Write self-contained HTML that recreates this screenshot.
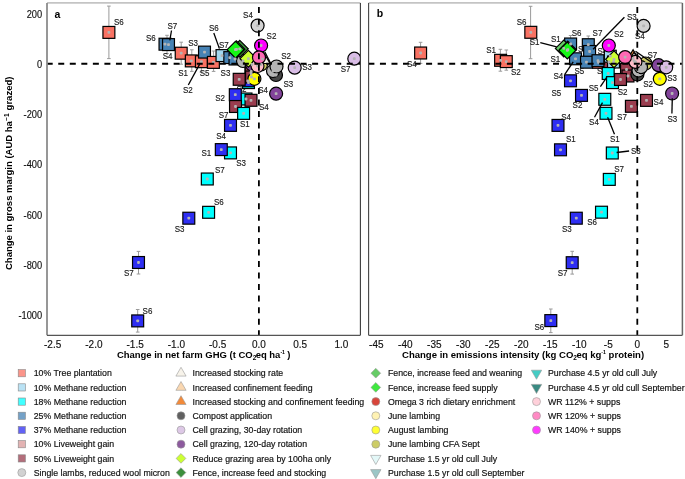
<!DOCTYPE html><html><head><meta charset="utf-8"><style>html,body{margin:0;padding:0;background:#fff;overflow:hidden}svg{display:block}#w{will-change:transform}</style></head><body><div id="w"><svg width="685" height="479" viewBox="0 0 685 479" font-family='"Liberation Sans", sans-serif'>
<rect width="685" height="479" fill="#fff"/>
<clipPath id="clipa"><rect x="47.0" y="2.9" width="313.4" height="332.4"/></clipPath>
<g clip-path="url(#clipa)">
<path d="M108.9,6.1V58.6M107.1,6.1h3.6M107.1,58.6h3.6" stroke="#9a9a9a" stroke-width="1" fill="none"/>
<path d="M167.0,35.3V53.5M165.2,35.3h3.6M165.2,53.5h3.6" stroke="#9a9a9a" stroke-width="1" fill="none"/>
<path d="M181.2,42.2V64.2M179.4,42.2h3.6M179.4,64.2h3.6" stroke="#9a9a9a" stroke-width="1" fill="none"/>
<path d="M191.8,49.8V71.4M190.0,49.8h3.6M190.0,71.4h3.6" stroke="#9a9a9a" stroke-width="1" fill="none"/>
<path d="M201.4,50.5V72.0M199.6,50.5h3.6M199.6,72.0h3.6" stroke="#9a9a9a" stroke-width="1" fill="none"/>
<path d="M213.6,51.0V71.4M211.8,51.0h3.6M211.8,71.4h3.6" stroke="#9a9a9a" stroke-width="1" fill="none"/>
<path d="M138.5,251.4V274.0M136.7,251.4h3.6M136.7,274.0h3.6" stroke="#9a9a9a" stroke-width="1" fill="none"/>
<path d="M137.7,309.5V332.1M135.9,309.5h3.6M135.9,332.1h3.6" stroke="#9a9a9a" stroke-width="1" fill="none"/>
<text transform="translate(236.6,92.4) scale(0.94,1)" font-size="8.5" fill="#1a1a1a" stroke="#1a1a1a" stroke-width="0.15">S2</text>
<rect x="102.95" y="26.45" width="11.9" height="11.9" fill="#f97263" stroke="#000" stroke-width="1.2"/>
<rect x="159.05" y="38.25" width="11.9" height="11.9" fill="#4682b4" stroke="#000" stroke-width="1.2"/>
<rect x="162.55" y="38.65" width="11.9" height="11.9" fill="#4682b4" stroke="#000" stroke-width="1.2"/>
<rect x="175.25" y="47.25" width="11.9" height="11.9" fill="#f97263" stroke="#000" stroke-width="1.2"/>
<rect x="185.35" y="54.95" width="11.9" height="11.9" fill="#f97263" stroke="#000" stroke-width="1.2"/>
<rect x="195.45" y="55.75" width="11.9" height="11.9" fill="#f97263" stroke="#000" stroke-width="1.2"/>
<rect x="198.55" y="46.15" width="11.9" height="11.9" fill="#4682b4" stroke="#000" stroke-width="1.2"/>
<rect x="207.45" y="56.45" width="11.9" height="11.9" fill="#f97263" stroke="#000" stroke-width="1.2"/>
<rect x="216.05" y="49.65" width="11.9" height="11.9" fill="#a3d8f0" stroke="#000" stroke-width="1.2"/>
<rect x="223.85" y="51.65" width="11.9" height="11.9" fill="#4682b4" stroke="#000" stroke-width="1.2"/>
<rect x="229.05" y="53.05" width="11.9" height="11.9" fill="#4682b4" stroke="#000" stroke-width="1.2"/>
<circle cx="243.0" cy="61.0" r="6.5" fill="#b5b5b5" stroke="#000" stroke-width="1.2"/>
<polygon points="239.8,40.4 248.20000000000002,48.8 239.8,57.199999999999996 231.4,48.8" fill="#3d8f3d" stroke="#000" stroke-width="1.2"/>
<polygon points="236.5,40.9 244.9,49.3 236.5,57.699999999999996 228.1,49.3" fill="#66cc66" stroke="#000" stroke-width="1.2"/>
<polygon points="235.5,41.300000000000004 243.9,49.7 235.5,58.1 227.1,49.7" fill="#16f516" stroke="#000" stroke-width="1.2"/>
<rect x="245.05" y="67.55" width="11.9" height="11.9" fill="#00ffff" stroke="#000" stroke-width="1.2"/>
<rect x="242.55" y="76.65" width="11.9" height="11.9" fill="#00ffff" stroke="#000" stroke-width="1.2"/>
<rect x="242.05" y="74.85" width="11.9" height="11.9" fill="#2e2ef2" stroke="#000" stroke-width="1.2"/>
<rect x="245.25" y="65.55" width="11.9" height="11.9" fill="#9a3d4f" stroke="#000" stroke-width="1.2"/>
<rect x="245.55" y="71.05" width="11.9" height="11.9" fill="#9a3d4f" stroke="#000" stroke-width="1.2"/>
<circle cx="252.0" cy="64.5" r="6.5" fill="#82449a" stroke="#000" stroke-width="1.2"/>
<polygon points="248.4,50.300000000000004 256.8,58.7 248.4,67.10000000000001 240.0,58.7" fill="#ccff33" stroke="#000" stroke-width="1.2"/>
<circle cx="257.6" cy="25.6" r="6.5" fill="#d2d2d2" stroke="#000" stroke-width="1.2"/>
<circle cx="261.0" cy="64.5" r="6.5" fill="#cccc66" stroke="#000" stroke-width="1.2"/>
<polygon points="262.5,50.45 270.069,63.5 254.931,63.5" fill="#f7f3ea" stroke="#000" stroke-width="1.2"/>
<circle cx="257.5" cy="66.0" r="6.5" fill="#ffbcc8" stroke="#000" stroke-width="1.2"/>
<circle cx="261.1" cy="45.5" r="6.5" fill="#ff00ff" stroke="#000" stroke-width="1.2"/>
<circle cx="259.0" cy="57.4" r="6.5" fill="#ff69b4" stroke="#000" stroke-width="1.2"/>
<circle cx="276.0" cy="75.0" r="6.5" fill="#454545" stroke="#000" stroke-width="1.2"/>
<circle cx="273.0" cy="71.0" r="6.5" fill="#b5b5b5" stroke="#000" stroke-width="1.2"/>
<circle cx="276.5" cy="66.5" r="6.5" fill="#b5b5b5" stroke="#000" stroke-width="1.2"/>
<circle cx="294.7" cy="67.7" r="6.5" fill="#d9bde6" stroke="#000" stroke-width="1.2"/>
<circle cx="354.3" cy="58.7" r="6.5" fill="#d9bde6" stroke="#000" stroke-width="1.2"/>
<rect x="233.25" y="73.35" width="11.9" height="11.9" fill="#9a3d4f" stroke="#000" stroke-width="1.2"/>
<circle cx="254.4" cy="78.8" r="6.5" fill="#ffff00" stroke="#000" stroke-width="1.2"/>
<circle cx="276.1" cy="93.7" r="6.5" fill="#82449a" stroke="#000" stroke-width="1.2"/>
<rect x="240.05" y="93.05" width="11.9" height="11.9" fill="#00ffff" stroke="#000" stroke-width="1.2"/>
<rect x="229.35" y="88.75" width="11.9" height="11.9" fill="#2e2ef2" stroke="#000" stroke-width="1.2"/>
<rect x="245.05" y="94.35" width="11.9" height="11.9" fill="#9a3d4f" stroke="#000" stroke-width="1.2"/>
<rect x="229.55" y="100.55" width="11.9" height="11.9" fill="#9a3d4f" stroke="#000" stroke-width="1.2"/>
<rect x="237.65" y="107.45" width="11.9" height="11.9" fill="#00ffff" stroke="#000" stroke-width="1.2"/>
<rect x="224.55" y="119.45" width="11.9" height="11.9" fill="#2e2ef2" stroke="#000" stroke-width="1.2"/>
<rect x="224.55" y="146.95" width="11.9" height="11.9" fill="#00ffff" stroke="#000" stroke-width="1.2"/>
<rect x="215.35" y="143.65" width="11.9" height="11.9" fill="#2e2ef2" stroke="#000" stroke-width="1.2"/>
<rect x="201.35" y="173.05" width="11.9" height="11.9" fill="#00ffff" stroke="#000" stroke-width="1.2"/>
<rect x="202.65" y="206.35" width="11.9" height="11.9" fill="#00ffff" stroke="#000" stroke-width="1.2"/>
<rect x="182.85" y="212.25" width="11.9" height="11.9" fill="#2e2ef2" stroke="#000" stroke-width="1.2"/>
<rect x="132.55" y="256.55" width="11.9" height="11.9" fill="#2e2ef2" stroke="#000" stroke-width="1.2"/>
<rect x="131.75" y="314.95" width="11.9" height="11.9" fill="#2e2ef2" stroke="#000" stroke-width="1.2"/>
<rect x="107.50" y="31.00" width="2.8" height="2.8" rx="0.8" fill="#b4b4b4"/>
<rect x="163.60" y="42.80" width="2.8" height="2.8" rx="0.8" fill="#b4b4b4"/>
<rect x="167.10" y="43.20" width="2.8" height="2.8" rx="0.8" fill="#b4b4b4"/>
<rect x="179.80" y="51.80" width="2.8" height="2.8" rx="0.8" fill="#b4b4b4"/>
<rect x="189.90" y="59.50" width="2.8" height="2.8" rx="0.8" fill="#b4b4b4"/>
<rect x="200.00" y="60.30" width="2.8" height="2.8" rx="0.8" fill="#b4b4b4"/>
<rect x="203.10" y="50.70" width="2.8" height="2.8" rx="0.8" fill="#b4b4b4"/>
<rect x="212.00" y="61.00" width="2.8" height="2.8" rx="0.8" fill="#b4b4b4"/>
<rect x="220.60" y="54.20" width="2.8" height="2.8" rx="0.8" fill="#b4b4b4"/>
<rect x="228.40" y="56.20" width="2.8" height="2.8" rx="0.8" fill="#b4b4b4"/>
<rect x="233.60" y="57.60" width="2.8" height="2.8" rx="0.8" fill="#b4b4b4"/>
<rect x="241.60" y="59.60" width="2.8" height="2.8" rx="0.8" fill="#b4b4b4"/>
<rect x="238.40" y="47.40" width="2.8" height="2.8" rx="0.8" fill="#b4b4b4"/>
<rect x="235.10" y="47.90" width="2.8" height="2.8" rx="0.8" fill="#b4b4b4"/>
<rect x="234.10" y="48.30" width="2.8" height="2.8" rx="0.8" fill="#b4b4b4"/>
<rect x="249.60" y="72.10" width="2.8" height="2.8" rx="0.8" fill="#b4b4b4"/>
<rect x="247.10" y="81.20" width="2.8" height="2.8" rx="0.8" fill="#b4b4b4"/>
<rect x="246.60" y="79.40" width="2.8" height="2.8" rx="0.8" fill="#b4b4b4"/>
<rect x="249.80" y="70.10" width="2.8" height="2.8" rx="0.8" fill="#b4b4b4"/>
<rect x="250.10" y="75.60" width="2.8" height="2.8" rx="0.8" fill="#b4b4b4"/>
<rect x="250.60" y="63.10" width="2.8" height="2.8" rx="0.8" fill="#b4b4b4"/>
<rect x="247.00" y="57.30" width="2.8" height="2.8" rx="0.8" fill="#b4b4b4"/>
<rect x="256.20" y="24.20" width="2.8" height="2.8" rx="0.8" fill="#b4b4b4"/>
<rect x="259.60" y="63.10" width="2.8" height="2.8" rx="0.8" fill="#b4b4b4"/>
<rect x="261.10" y="57.75" width="2.8" height="2.8" rx="0.8" fill="#b4b4b4"/>
<rect x="256.10" y="64.60" width="2.8" height="2.8" rx="0.8" fill="#b4b4b4"/>
<rect x="259.70" y="44.10" width="2.8" height="2.8" rx="0.8" fill="#b4b4b4"/>
<rect x="257.60" y="56.00" width="2.8" height="2.8" rx="0.8" fill="#b4b4b4"/>
<rect x="274.60" y="73.60" width="2.8" height="2.8" rx="0.8" fill="#b4b4b4"/>
<rect x="271.60" y="69.60" width="2.8" height="2.8" rx="0.8" fill="#b4b4b4"/>
<rect x="275.10" y="65.10" width="2.8" height="2.8" rx="0.8" fill="#b4b4b4"/>
<rect x="293.30" y="66.30" width="2.8" height="2.8" rx="0.8" fill="#b4b4b4"/>
<rect x="352.90" y="57.30" width="2.8" height="2.8" rx="0.8" fill="#b4b4b4"/>
<rect x="237.80" y="77.90" width="2.8" height="2.8" rx="0.8" fill="#b4b4b4"/>
<rect x="253.00" y="77.40" width="2.8" height="2.8" rx="0.8" fill="#b4b4b4"/>
<rect x="274.70" y="92.30" width="2.8" height="2.8" rx="0.8" fill="#b4b4b4"/>
<rect x="244.60" y="97.60" width="2.8" height="2.8" rx="0.8" fill="#b4b4b4"/>
<rect x="233.90" y="93.30" width="2.8" height="2.8" rx="0.8" fill="#b4b4b4"/>
<rect x="249.60" y="98.90" width="2.8" height="2.8" rx="0.8" fill="#b4b4b4"/>
<rect x="234.10" y="105.10" width="2.8" height="2.8" rx="0.8" fill="#b4b4b4"/>
<rect x="242.20" y="112.00" width="2.8" height="2.8" rx="0.8" fill="#b4b4b4"/>
<rect x="229.10" y="124.00" width="2.8" height="2.8" rx="0.8" fill="#b4b4b4"/>
<rect x="229.10" y="151.50" width="2.8" height="2.8" rx="0.8" fill="#b4b4b4"/>
<rect x="219.90" y="148.20" width="2.8" height="2.8" rx="0.8" fill="#b4b4b4"/>
<rect x="205.90" y="177.60" width="2.8" height="2.8" rx="0.8" fill="#b4b4b4"/>
<rect x="207.20" y="210.90" width="2.8" height="2.8" rx="0.8" fill="#b4b4b4"/>
<rect x="187.40" y="216.80" width="2.8" height="2.8" rx="0.8" fill="#b4b4b4"/>
<rect x="137.10" y="261.10" width="2.8" height="2.8" rx="0.8" fill="#b4b4b4"/>
<rect x="136.30" y="319.50" width="2.8" height="2.8" rx="0.8" fill="#b4b4b4"/>
<line x1="46.7" y1="63.75" x2="372.4" y2="63.75" stroke="#000" stroke-width="1.8" stroke-dasharray="6,5.54"/>
<line x1="258.9" y1="-4.44" x2="258.9" y2="347.3" stroke="#000" stroke-width="1.8" stroke-dasharray="6,5.54"/>
<line x1="171.5" y1="30.5" x2="169.8" y2="40.4" stroke="#000" stroke-width="1.3"/>
<line x1="213.8" y1="33" x2="219.4" y2="48.6" stroke="#000" stroke-width="1.3"/>
<line x1="188.3" y1="85" x2="199.7" y2="64.1" stroke="#000" stroke-width="1.3"/>
<line x1="264.8" y1="51.8" x2="270.6" y2="63.2" stroke="#000" stroke-width="1.3"/>
</g>
<text transform="translate(114,24.8) scale(0.94,1)" font-size="8.5" fill="#1a1a1a" stroke="#1a1a1a" stroke-width="0.15">S6</text>
<text transform="translate(146,41) scale(0.94,1)" font-size="8.5" fill="#1a1a1a" stroke="#1a1a1a" stroke-width="0.15">S6</text>
<text transform="translate(167.4,28.8) scale(0.94,1)" font-size="8.5" fill="#1a1a1a" stroke="#1a1a1a" stroke-width="0.15">S7</text>
<text transform="translate(162.8,58.5) scale(0.94,1)" font-size="8.5" fill="#1a1a1a" stroke="#1a1a1a" stroke-width="0.15">S4</text>
<text transform="translate(188.2,45.7) scale(0.94,1)" font-size="8.5" fill="#1a1a1a" stroke="#1a1a1a" stroke-width="0.15">S3</text>
<text transform="translate(178.3,75.6) scale(0.94,1)" font-size="8.5" fill="#1a1a1a" stroke="#1a1a1a" stroke-width="0.15">S1</text>
<text transform="translate(199.7,75.6) scale(0.94,1)" font-size="8.5" fill="#1a1a1a" stroke="#1a1a1a" stroke-width="0.15">S5</text>
<text transform="translate(220.6,75.6) scale(0.94,1)" font-size="8.5" fill="#1a1a1a" stroke="#1a1a1a" stroke-width="0.15">S3</text>
<text transform="translate(183,92.8) scale(0.94,1)" font-size="8.5" fill="#1a1a1a" stroke="#1a1a1a" stroke-width="0.15">S2</text>
<text transform="translate(209,31) scale(0.94,1)" font-size="8.5" fill="#1a1a1a" stroke="#1a1a1a" stroke-width="0.15">S6</text>
<text transform="translate(219,48) scale(0.94,1)" font-size="8.5" fill="#1a1a1a" stroke="#1a1a1a" stroke-width="0.15">S7</text>
<text transform="translate(243.1,17.8) scale(0.94,1)" font-size="8.5" fill="#1a1a1a" stroke="#1a1a1a" stroke-width="0.15">S4</text>
<text transform="translate(266.6,38.6) scale(0.94,1)" font-size="8.5" fill="#1a1a1a" stroke="#1a1a1a" stroke-width="0.15">S2</text>
<text transform="translate(281.3,58.9) scale(0.94,1)" font-size="8.5" fill="#1a1a1a" stroke="#1a1a1a" stroke-width="0.15">S2</text>
<text transform="translate(302.2,69.8) scale(0.94,1)" font-size="8.5" fill="#1a1a1a" stroke="#1a1a1a" stroke-width="0.15">S3</text>
<text transform="translate(340.8,71.6) scale(0.94,1)" font-size="8.5" fill="#1a1a1a" stroke="#1a1a1a" stroke-width="0.15">S7</text>
<text transform="translate(283.4,86.5) scale(0.94,1)" font-size="8.5" fill="#1a1a1a" stroke="#1a1a1a" stroke-width="0.15">S3</text>
<text transform="translate(258.2,93) scale(0.94,1)" font-size="8.5" fill="#1a1a1a" stroke="#1a1a1a" stroke-width="0.15">S4</text>
<text transform="translate(258.9,109.6) scale(0.94,1)" font-size="8.5" fill="#1a1a1a" stroke="#1a1a1a" stroke-width="0.15">S4</text>
<text transform="translate(215.3,100.6) scale(0.94,1)" font-size="8.5" fill="#1a1a1a" stroke="#1a1a1a" stroke-width="0.15">S2</text>
<text transform="translate(218.7,117.7) scale(0.94,1)" font-size="8.5" fill="#1a1a1a" stroke="#1a1a1a" stroke-width="0.15">S7</text>
<text transform="translate(239.9,126.9) scale(0.94,1)" font-size="8.5" fill="#1a1a1a" stroke="#1a1a1a" stroke-width="0.15">S1</text>
<text transform="translate(216.3,138.6) scale(0.94,1)" font-size="8.5" fill="#1a1a1a" stroke="#1a1a1a" stroke-width="0.15">S4</text>
<text transform="translate(201.4,155.5) scale(0.94,1)" font-size="8.5" fill="#1a1a1a" stroke="#1a1a1a" stroke-width="0.15">S1</text>
<text transform="translate(236.3,166) scale(0.94,1)" font-size="8.5" fill="#1a1a1a" stroke="#1a1a1a" stroke-width="0.15">S3</text>
<text transform="translate(214.9,172.6) scale(0.94,1)" font-size="8.5" fill="#1a1a1a" stroke="#1a1a1a" stroke-width="0.15">S7</text>
<text transform="translate(214,205) scale(0.94,1)" font-size="8.5" fill="#1a1a1a" stroke="#1a1a1a" stroke-width="0.15">S6</text>
<text transform="translate(174.8,231.6) scale(0.94,1)" font-size="8.5" fill="#1a1a1a" stroke="#1a1a1a" stroke-width="0.15">S3</text>
<text transform="translate(124,276.3) scale(0.94,1)" font-size="8.5" fill="#1a1a1a" stroke="#1a1a1a" stroke-width="0.15">S7</text>
<text transform="translate(142.6,313.6) scale(0.94,1)" font-size="8.5" fill="#1a1a1a" stroke="#1a1a1a" stroke-width="0.15">S6</text>
<clipPath id="clipb"><rect x="368.6" y="2.9" width="313.8" height="332.4"/></clipPath>
<g clip-path="url(#clipb)">
<path d="M420.6,42.3V63.4M418.8,42.3h3.6M418.8,63.4h3.6" stroke="#9a9a9a" stroke-width="1" fill="none"/>
<path d="M530.6,6.3V58.7M528.8,6.3h3.6M528.8,58.7h3.6" stroke="#9a9a9a" stroke-width="1" fill="none"/>
<path d="M500.4,49.3V71.2M498.6,49.3h3.6M498.6,71.2h3.6" stroke="#9a9a9a" stroke-width="1" fill="none"/>
<path d="M506.3,50.0V70.2M504.5,50.0h3.6M504.5,70.2h3.6" stroke="#9a9a9a" stroke-width="1" fill="none"/>
<path d="M572.2,251.3V274.1M570.4,251.3h3.6M570.4,274.1h3.6" stroke="#9a9a9a" stroke-width="1" fill="none"/>
<path d="M550.8,309.0V332.6M549.0,309.0h3.6M549.0,332.6h3.6" stroke="#9a9a9a" stroke-width="1" fill="none"/>
<path d="M570.6,35.5V52.0M568.8,35.5h3.6M568.8,52.0h3.6" stroke="#9a9a9a" stroke-width="1" fill="none"/>
<path d="M588.3,36.0V53.0M586.5,36.0h3.6M586.5,53.0h3.6" stroke="#9a9a9a" stroke-width="1" fill="none"/>
<text transform="translate(597.5,53.6) scale(0.94,1)" font-size="8.5" fill="#1a1a1a" stroke="#1a1a1a" stroke-width="0.15">S4</text>
<text transform="translate(597.0,74.4) scale(0.94,1)" font-size="8.5" fill="#1a1a1a" stroke="#1a1a1a" stroke-width="0.15">S3</text>
<text transform="translate(578.0,51.5) scale(0.94,1)" font-size="8.5" fill="#1a1a1a" stroke="#1a1a1a" stroke-width="0.15">S4</text>
<rect x="414.65" y="47.05" width="11.9" height="11.9" fill="#f97263" stroke="#000" stroke-width="1.2"/>
<rect x="524.85" y="26.35" width="11.9" height="11.9" fill="#f97263" stroke="#000" stroke-width="1.2"/>
<rect x="494.65" y="54.35" width="11.9" height="11.9" fill="#f97263" stroke="#000" stroke-width="1.2"/>
<rect x="500.35" y="55.65" width="11.9" height="11.9" fill="#f97263" stroke="#000" stroke-width="1.2"/>
<rect x="592.55" y="56.35" width="11.9" height="11.9" fill="#f97263" stroke="#000" stroke-width="1.2"/>
<rect x="603.05" y="56.05" width="11.9" height="11.9" fill="#9a3d4f" stroke="#000" stroke-width="1.2"/>
<rect x="564.65" y="38.05" width="11.9" height="11.9" fill="#4682b4" stroke="#000" stroke-width="1.2"/>
<rect x="582.35" y="38.75" width="11.9" height="11.9" fill="#4682b4" stroke="#000" stroke-width="1.2"/>
<rect x="583.65" y="45.55" width="11.9" height="11.9" fill="#4682b4" stroke="#000" stroke-width="1.2"/>
<rect x="569.55" y="52.85" width="11.9" height="11.9" fill="#4682b4" stroke="#000" stroke-width="1.2"/>
<rect x="580.55" y="56.25" width="11.9" height="11.9" fill="#4682b4" stroke="#000" stroke-width="1.2"/>
<rect x="592.05" y="54.75" width="11.9" height="11.9" fill="#4682b4" stroke="#000" stroke-width="1.2"/>
<polygon points="563.8,40.0 572.1999999999999,48.4 563.8,56.8 555.4,48.4" fill="#66cc66" stroke="#000" stroke-width="1.2"/>
<polygon points="567.8,41.2 576.1999999999999,49.6 567.8,58.0 559.4,49.6" fill="#3d8f3d" stroke="#000" stroke-width="1.2"/>
<polygon points="567.3,42.0 575.6999999999999,50.4 567.3,58.8 558.9,50.4" fill="#16f516" stroke="#000" stroke-width="1.2"/>
<rect x="604.35" y="50.25" width="11.9" height="11.9" fill="#a3d8f0" stroke="#000" stroke-width="1.2"/>
<rect x="607.55" y="56.05" width="11.9" height="11.9" fill="#a3d8f0" stroke="#000" stroke-width="1.2"/>
<circle cx="608.8" cy="45.5" r="6.5" fill="#ff00ff" stroke="#000" stroke-width="1.2"/>
<polygon points="614.0,50.9 622.4,59.3 614.0,67.7 605.6,59.3" fill="#ccff33" stroke="#000" stroke-width="1.2"/>
<polygon points="633.1,49.7 640.669,62.75 625.5310000000001,62.75" fill="#f28a3a" stroke="#000" stroke-width="1.2"/>
<polygon points="634.0,52.3 641.569,65.35 626.431,65.35" fill="#f7f3ea" stroke="#000" stroke-width="1.2"/>
<circle cx="643.6" cy="25.9" r="6.5" fill="#d2d2d2" stroke="#000" stroke-width="1.2"/>
<rect x="620.55" y="63.55" width="11.9" height="11.9" fill="#9a3d4f" stroke="#000" stroke-width="1.2"/>
<rect x="622.05" y="70.05" width="11.9" height="11.9" fill="#9a3d4f" stroke="#000" stroke-width="1.2"/>
<circle cx="645.5" cy="63.5" r="6.5" fill="#cccc66" stroke="#000" stroke-width="1.2"/>
<circle cx="637.4" cy="74.5" r="6.5" fill="#454545" stroke="#000" stroke-width="1.2"/>
<circle cx="638.5" cy="70.5" r="6.5" fill="#b5b5b5" stroke="#000" stroke-width="1.2"/>
<circle cx="641.0" cy="67.2" r="6.5" fill="#b5b5b5" stroke="#000" stroke-width="1.2"/>
<circle cx="635.4" cy="61.9" r="6.5" fill="#ffbcc8" stroke="#000" stroke-width="1.2"/>
<circle cx="625.1" cy="57.1" r="6.5" fill="#ff69b4" stroke="#000" stroke-width="1.2"/>
<circle cx="658.5" cy="65.2" r="6.5" fill="#82449a" stroke="#000" stroke-width="1.2"/>
<circle cx="666.2" cy="67.3" r="6.5" fill="#d9bde6" stroke="#000" stroke-width="1.2"/>
<circle cx="659.8" cy="78.8" r="6.5" fill="#ffff00" stroke="#000" stroke-width="1.2"/>
<circle cx="672.1" cy="93.5" r="6.5" fill="#82449a" stroke="#000" stroke-width="1.2"/>
<rect x="602.25" y="67.55" width="11.9" height="11.9" fill="#00ffff" stroke="#000" stroke-width="1.2"/>
<rect x="606.55" y="76.65" width="11.9" height="11.9" fill="#00ffff" stroke="#000" stroke-width="1.2"/>
<rect x="614.55" y="73.55" width="11.9" height="11.9" fill="#9a3d4f" stroke="#000" stroke-width="1.2"/>
<rect x="564.55" y="74.85" width="11.9" height="11.9" fill="#2e2ef2" stroke="#000" stroke-width="1.2"/>
<rect x="575.55" y="89.45" width="11.9" height="11.9" fill="#2e2ef2" stroke="#000" stroke-width="1.2"/>
<rect x="598.85" y="93.35" width="11.9" height="11.9" fill="#00ffff" stroke="#000" stroke-width="1.2"/>
<rect x="600.05" y="107.35" width="11.9" height="11.9" fill="#00ffff" stroke="#000" stroke-width="1.2"/>
<rect x="640.55" y="94.45" width="11.9" height="11.9" fill="#9a3d4f" stroke="#000" stroke-width="1.2"/>
<rect x="625.45" y="100.35" width="11.9" height="11.9" fill="#9a3d4f" stroke="#000" stroke-width="1.2"/>
<rect x="552.05" y="119.45" width="11.9" height="11.9" fill="#2e2ef2" stroke="#000" stroke-width="1.2"/>
<rect x="554.55" y="143.85" width="11.9" height="11.9" fill="#2e2ef2" stroke="#000" stroke-width="1.2"/>
<rect x="606.35" y="147.05" width="11.9" height="11.9" fill="#00ffff" stroke="#000" stroke-width="1.2"/>
<rect x="603.35" y="173.45" width="11.9" height="11.9" fill="#00ffff" stroke="#000" stroke-width="1.2"/>
<rect x="595.55" y="206.25" width="11.9" height="11.9" fill="#00ffff" stroke="#000" stroke-width="1.2"/>
<rect x="570.35" y="212.25" width="11.9" height="11.9" fill="#2e2ef2" stroke="#000" stroke-width="1.2"/>
<rect x="566.25" y="256.75" width="11.9" height="11.9" fill="#2e2ef2" stroke="#000" stroke-width="1.2"/>
<rect x="544.85" y="314.65" width="11.9" height="11.9" fill="#2e2ef2" stroke="#000" stroke-width="1.2"/>
<rect x="419.20" y="51.60" width="2.8" height="2.8" rx="0.8" fill="#b4b4b4"/>
<rect x="529.40" y="30.90" width="2.8" height="2.8" rx="0.8" fill="#b4b4b4"/>
<rect x="499.20" y="58.90" width="2.8" height="2.8" rx="0.8" fill="#b4b4b4"/>
<rect x="504.90" y="60.20" width="2.8" height="2.8" rx="0.8" fill="#b4b4b4"/>
<rect x="597.10" y="60.90" width="2.8" height="2.8" rx="0.8" fill="#b4b4b4"/>
<rect x="607.60" y="60.60" width="2.8" height="2.8" rx="0.8" fill="#b4b4b4"/>
<rect x="569.20" y="42.60" width="2.8" height="2.8" rx="0.8" fill="#b4b4b4"/>
<rect x="586.90" y="43.30" width="2.8" height="2.8" rx="0.8" fill="#b4b4b4"/>
<rect x="588.20" y="50.10" width="2.8" height="2.8" rx="0.8" fill="#b4b4b4"/>
<rect x="574.10" y="57.40" width="2.8" height="2.8" rx="0.8" fill="#b4b4b4"/>
<rect x="585.10" y="60.80" width="2.8" height="2.8" rx="0.8" fill="#b4b4b4"/>
<rect x="596.60" y="59.30" width="2.8" height="2.8" rx="0.8" fill="#b4b4b4"/>
<rect x="562.40" y="47.00" width="2.8" height="2.8" rx="0.8" fill="#b4b4b4"/>
<rect x="566.40" y="48.20" width="2.8" height="2.8" rx="0.8" fill="#b4b4b4"/>
<rect x="565.90" y="49.00" width="2.8" height="2.8" rx="0.8" fill="#b4b4b4"/>
<rect x="608.90" y="54.80" width="2.8" height="2.8" rx="0.8" fill="#b4b4b4"/>
<rect x="612.10" y="60.60" width="2.8" height="2.8" rx="0.8" fill="#b4b4b4"/>
<rect x="607.40" y="44.10" width="2.8" height="2.8" rx="0.8" fill="#b4b4b4"/>
<rect x="612.60" y="57.90" width="2.8" height="2.8" rx="0.8" fill="#b4b4b4"/>
<rect x="631.70" y="57.00" width="2.8" height="2.8" rx="0.8" fill="#b4b4b4"/>
<rect x="632.60" y="59.60" width="2.8" height="2.8" rx="0.8" fill="#b4b4b4"/>
<rect x="642.20" y="24.50" width="2.8" height="2.8" rx="0.8" fill="#b4b4b4"/>
<rect x="625.10" y="68.10" width="2.8" height="2.8" rx="0.8" fill="#b4b4b4"/>
<rect x="626.60" y="74.60" width="2.8" height="2.8" rx="0.8" fill="#b4b4b4"/>
<rect x="644.10" y="62.10" width="2.8" height="2.8" rx="0.8" fill="#b4b4b4"/>
<rect x="636.00" y="73.10" width="2.8" height="2.8" rx="0.8" fill="#b4b4b4"/>
<rect x="637.10" y="69.10" width="2.8" height="2.8" rx="0.8" fill="#b4b4b4"/>
<rect x="639.60" y="65.80" width="2.8" height="2.8" rx="0.8" fill="#b4b4b4"/>
<rect x="634.00" y="60.50" width="2.8" height="2.8" rx="0.8" fill="#b4b4b4"/>
<rect x="623.70" y="55.70" width="2.8" height="2.8" rx="0.8" fill="#b4b4b4"/>
<rect x="657.10" y="63.80" width="2.8" height="2.8" rx="0.8" fill="#b4b4b4"/>
<rect x="664.80" y="65.90" width="2.8" height="2.8" rx="0.8" fill="#b4b4b4"/>
<rect x="658.40" y="77.40" width="2.8" height="2.8" rx="0.8" fill="#b4b4b4"/>
<rect x="670.70" y="92.10" width="2.8" height="2.8" rx="0.8" fill="#b4b4b4"/>
<rect x="606.80" y="72.10" width="2.8" height="2.8" rx="0.8" fill="#b4b4b4"/>
<rect x="611.10" y="81.20" width="2.8" height="2.8" rx="0.8" fill="#b4b4b4"/>
<rect x="619.10" y="78.10" width="2.8" height="2.8" rx="0.8" fill="#b4b4b4"/>
<rect x="569.10" y="79.40" width="2.8" height="2.8" rx="0.8" fill="#b4b4b4"/>
<rect x="580.10" y="94.00" width="2.8" height="2.8" rx="0.8" fill="#b4b4b4"/>
<rect x="603.40" y="97.90" width="2.8" height="2.8" rx="0.8" fill="#b4b4b4"/>
<rect x="604.60" y="111.90" width="2.8" height="2.8" rx="0.8" fill="#b4b4b4"/>
<rect x="645.10" y="99.00" width="2.8" height="2.8" rx="0.8" fill="#b4b4b4"/>
<rect x="630.00" y="104.90" width="2.8" height="2.8" rx="0.8" fill="#b4b4b4"/>
<rect x="556.60" y="124.00" width="2.8" height="2.8" rx="0.8" fill="#b4b4b4"/>
<rect x="559.10" y="148.40" width="2.8" height="2.8" rx="0.8" fill="#b4b4b4"/>
<rect x="610.90" y="151.60" width="2.8" height="2.8" rx="0.8" fill="#b4b4b4"/>
<rect x="607.90" y="178.00" width="2.8" height="2.8" rx="0.8" fill="#b4b4b4"/>
<rect x="600.10" y="210.80" width="2.8" height="2.8" rx="0.8" fill="#b4b4b4"/>
<rect x="574.90" y="216.80" width="2.8" height="2.8" rx="0.8" fill="#b4b4b4"/>
<rect x="570.80" y="261.30" width="2.8" height="2.8" rx="0.8" fill="#b4b4b4"/>
<rect x="549.40" y="319.20" width="2.8" height="2.8" rx="0.8" fill="#b4b4b4"/>
<line x1="368.4" y1="63.75" x2="694.4" y2="63.75" stroke="#000" stroke-width="1.8" stroke-dasharray="6,5.54"/>
<line x1="637.3" y1="-4.44" x2="637.3" y2="347.3" stroke="#000" stroke-width="1.8" stroke-dasharray="6,5.54"/>
<line x1="540.3" y1="42.6" x2="556.7" y2="46.9" stroke="#000" stroke-width="1.3"/>
<line x1="624.4" y1="17.3" x2="593.1" y2="49.3" stroke="#000" stroke-width="1.3"/>
<line x1="573.2" y1="61.9" x2="564.8" y2="74.4" stroke="#000" stroke-width="1.3"/>
<line x1="600.4" y1="86.6" x2="606.7" y2="77.4" stroke="#000" stroke-width="1.3"/>
<line x1="594.5" y1="117.2" x2="602.5" y2="102.6" stroke="#000" stroke-width="1.3"/>
<line x1="607.6" y1="117.2" x2="614.5" y2="134.3" stroke="#000" stroke-width="1.3"/>
<line x1="616.6" y1="152.5" x2="629.1" y2="151" stroke="#000" stroke-width="1.3"/>
<line x1="672.3" y1="98.2" x2="671.9" y2="113.6" stroke="#000" stroke-width="1.3"/>
<line x1="635.5" y1="51.2" x2="651.0" y2="62.0" stroke="#000" stroke-width="1.3"/>
</g>
<text transform="translate(407,66.5) scale(0.94,1)" font-size="8.5" fill="#1a1a1a" stroke="#1a1a1a" stroke-width="0.15">S4</text>
<text transform="translate(516.8,25) scale(0.94,1)" font-size="8.5" fill="#1a1a1a" stroke="#1a1a1a" stroke-width="0.15">S6</text>
<text transform="translate(529.8,45.4) scale(0.94,1)" font-size="8.5" fill="#1a1a1a" stroke="#1a1a1a" stroke-width="0.15">S1</text>
<text transform="translate(486.3,52.9) scale(0.94,1)" font-size="8.5" fill="#1a1a1a" stroke="#1a1a1a" stroke-width="0.15">S1</text>
<text transform="translate(511,74.9) scale(0.94,1)" font-size="8.5" fill="#1a1a1a" stroke="#1a1a1a" stroke-width="0.15">S2</text>
<text transform="translate(551,41.7) scale(0.94,1)" font-size="8.5" fill="#1a1a1a" stroke="#1a1a1a" stroke-width="0.15">S1</text>
<text transform="translate(550.4,61.7) scale(0.94,1)" font-size="8.5" fill="#1a1a1a" stroke="#1a1a1a" stroke-width="0.15">S1</text>
<text transform="translate(571.8,35.6) scale(0.94,1)" font-size="8.5" fill="#1a1a1a" stroke="#1a1a1a" stroke-width="0.15">S6</text>
<text transform="translate(592.6,36.3) scale(0.94,1)" font-size="8.5" fill="#1a1a1a" stroke="#1a1a1a" stroke-width="0.15">S7</text>
<text transform="translate(627,19.6) scale(0.94,1)" font-size="8.5" fill="#1a1a1a" stroke="#1a1a1a" stroke-width="0.15">S3</text>
<text transform="translate(634.9,38.9) scale(0.94,1)" font-size="8.5" fill="#1a1a1a" stroke="#1a1a1a" stroke-width="0.15">S4</text>
<text transform="translate(614,37.4) scale(0.94,1)" font-size="8.5" fill="#1a1a1a" stroke="#1a1a1a" stroke-width="0.15">S2</text>
<text transform="translate(574.4,73.5) scale(0.94,1)" font-size="8.5" fill="#1a1a1a" stroke="#1a1a1a" stroke-width="0.15">S5</text>
<text transform="translate(647.4,57.5) scale(0.94,1)" font-size="8.5" fill="#1a1a1a" stroke="#1a1a1a" stroke-width="0.15">S7</text>
<text transform="translate(667.3,80.7) scale(0.94,1)" font-size="8.5" fill="#1a1a1a" stroke="#1a1a1a" stroke-width="0.15">S3</text>
<text transform="translate(643.3,87) scale(0.94,1)" font-size="8.5" fill="#1a1a1a" stroke="#1a1a1a" stroke-width="0.15">S2</text>
<text transform="translate(617.8,95.3) scale(0.94,1)" font-size="8.5" fill="#1a1a1a" stroke="#1a1a1a" stroke-width="0.15">S2</text>
<text transform="translate(588.8,90.8) scale(0.94,1)" font-size="8.5" fill="#1a1a1a" stroke="#1a1a1a" stroke-width="0.15">S5</text>
<text transform="translate(553.5,78.8) scale(0.94,1)" font-size="8.5" fill="#1a1a1a" stroke="#1a1a1a" stroke-width="0.15">S4</text>
<text transform="translate(551.5,96.3) scale(0.94,1)" font-size="8.5" fill="#1a1a1a" stroke="#1a1a1a" stroke-width="0.15">S5</text>
<text transform="translate(572.6,108.2) scale(0.94,1)" font-size="8.5" fill="#1a1a1a" stroke="#1a1a1a" stroke-width="0.15">S2</text>
<text transform="translate(561.3,119.9) scale(0.94,1)" font-size="8.5" fill="#1a1a1a" stroke="#1a1a1a" stroke-width="0.15">S4</text>
<text transform="translate(589.1,124.7) scale(0.94,1)" font-size="8.5" fill="#1a1a1a" stroke="#1a1a1a" stroke-width="0.15">S4</text>
<text transform="translate(617.1,119.9) scale(0.94,1)" font-size="8.5" fill="#1a1a1a" stroke="#1a1a1a" stroke-width="0.15">S7</text>
<text transform="translate(653.6,104.8) scale(0.94,1)" font-size="8.5" fill="#1a1a1a" stroke="#1a1a1a" stroke-width="0.15">S4</text>
<text transform="translate(667.5,121.6) scale(0.94,1)" font-size="8.5" fill="#1a1a1a" stroke="#1a1a1a" stroke-width="0.15">S3</text>
<text transform="translate(565.9,142.2) scale(0.94,1)" font-size="8.5" fill="#1a1a1a" stroke="#1a1a1a" stroke-width="0.15">S1</text>
<text transform="translate(609.9,141.9) scale(0.94,1)" font-size="8.5" fill="#1a1a1a" stroke="#1a1a1a" stroke-width="0.15">S1</text>
<text transform="translate(630.9,154.3) scale(0.94,1)" font-size="8.5" fill="#1a1a1a" stroke="#1a1a1a" stroke-width="0.15">S3</text>
<text transform="translate(614.2,171.5) scale(0.94,1)" font-size="8.5" fill="#1a1a1a" stroke="#1a1a1a" stroke-width="0.15">S7</text>
<text transform="translate(562,231.5) scale(0.94,1)" font-size="8.5" fill="#1a1a1a" stroke="#1a1a1a" stroke-width="0.15">S3</text>
<text transform="translate(587.3,225) scale(0.94,1)" font-size="8.5" fill="#1a1a1a" stroke="#1a1a1a" stroke-width="0.15">S6</text>
<text transform="translate(557.8,276.1) scale(0.94,1)" font-size="8.5" fill="#1a1a1a" stroke="#1a1a1a" stroke-width="0.15">S7</text>
<text transform="translate(534.4,330.2) scale(0.94,1)" font-size="8.5" fill="#1a1a1a" stroke="#1a1a1a" stroke-width="0.15">S6</text>
<line x1="47.0" y1="2.9" x2="360.4" y2="2.9" stroke="#c4c4c4" stroke-width="1.8"/>
<line x1="47.0" y1="2.9" x2="47.0" y2="335.3" stroke="#8c8c8c" stroke-width="1.8"/>
<line x1="47.0" y1="335.3" x2="360.4" y2="335.3" stroke="#555" stroke-width="1.3"/>
<line x1="360.4" y1="2.9" x2="360.4" y2="335.3" stroke="#3a3a3a" stroke-width="1.1"/>
<line x1="368.6" y1="2.9" x2="682.4" y2="2.9" stroke="#c4c4c4" stroke-width="1.8"/>
<line x1="368.6" y1="2.9" x2="368.6" y2="335.3" stroke="#444" stroke-width="1.1"/>
<line x1="368.6" y1="335.3" x2="682.4" y2="335.3" stroke="#555" stroke-width="1.3"/>
<line x1="682.4" y1="2.9" x2="682.4" y2="335.3" stroke="#666" stroke-width="1.5"/>
<text x="54.5" y="18" font-size="10.5" text-anchor="start" font-weight="bold" fill="#000" >a</text>
<text x="376.8" y="16.9" font-size="10.5" text-anchor="start" font-weight="bold" fill="#000" >b</text>
<text transform="translate(42.2,17.56) scale(0.93,1)" font-size="10" text-anchor="end" fill="#111" stroke="#111" stroke-width="0.15">200</text>
<text transform="translate(42.2,67.80) scale(0.93,1)" font-size="10" text-anchor="end" fill="#111" stroke="#111" stroke-width="0.15">0</text>
<text transform="translate(42.2,118.04) scale(0.93,1)" font-size="10" text-anchor="end" fill="#111" stroke="#111" stroke-width="0.15">-200</text>
<text transform="translate(42.2,168.28) scale(0.93,1)" font-size="10" text-anchor="end" fill="#111" stroke="#111" stroke-width="0.15">-400</text>
<text transform="translate(42.2,218.52) scale(0.93,1)" font-size="10" text-anchor="end" fill="#111" stroke="#111" stroke-width="0.15">-600</text>
<text transform="translate(42.2,268.76) scale(0.93,1)" font-size="10" text-anchor="end" fill="#111" stroke="#111" stroke-width="0.15">-800</text>
<text transform="translate(42.2,319.00) scale(0.93,1)" font-size="10" text-anchor="end" fill="#111" stroke="#111" stroke-width="0.15">-1000</text>
<text x="52.64999999999998" y="347.6" font-size="10" text-anchor="middle" font-weight="normal" fill="#111"  stroke="#111" stroke-width="0.15">-2.5</text>
<text x="93.89999999999998" y="347.6" font-size="10" text-anchor="middle" font-weight="normal" fill="#111"  stroke="#111" stroke-width="0.15">-2.0</text>
<text x="135.14999999999998" y="347.6" font-size="10" text-anchor="middle" font-weight="normal" fill="#111"  stroke="#111" stroke-width="0.15">-1.5</text>
<text x="176.39999999999998" y="347.6" font-size="10" text-anchor="middle" font-weight="normal" fill="#111"  stroke="#111" stroke-width="0.15">-1.0</text>
<text x="217.64999999999998" y="347.6" font-size="10" text-anchor="middle" font-weight="normal" fill="#111"  stroke="#111" stroke-width="0.15">-0.5</text>
<text x="258.9" y="347.6" font-size="10" text-anchor="middle" font-weight="normal" fill="#111"  stroke="#111" stroke-width="0.15">0.0</text>
<text x="300.15" y="347.6" font-size="10" text-anchor="middle" font-weight="normal" fill="#111"  stroke="#111" stroke-width="0.15">0.5</text>
<text x="341.4" y="347.6" font-size="10" text-anchor="middle" font-weight="normal" fill="#111"  stroke="#111" stroke-width="0.15">1.0</text>
<text x="376.29999999999995" y="347.6" font-size="10" text-anchor="middle" font-weight="normal" fill="#111"  stroke="#111" stroke-width="0.15">-45</text>
<text x="405.29999999999995" y="347.6" font-size="10" text-anchor="middle" font-weight="normal" fill="#111"  stroke="#111" stroke-width="0.15">-40</text>
<text x="434.29999999999995" y="347.6" font-size="10" text-anchor="middle" font-weight="normal" fill="#111"  stroke="#111" stroke-width="0.15">-35</text>
<text x="463.29999999999995" y="347.6" font-size="10" text-anchor="middle" font-weight="normal" fill="#111"  stroke="#111" stroke-width="0.15">-30</text>
<text x="492.29999999999995" y="347.6" font-size="10" text-anchor="middle" font-weight="normal" fill="#111"  stroke="#111" stroke-width="0.15">-25</text>
<text x="521.3" y="347.6" font-size="10" text-anchor="middle" font-weight="normal" fill="#111"  stroke="#111" stroke-width="0.15">-20</text>
<text x="550.3" y="347.6" font-size="10" text-anchor="middle" font-weight="normal" fill="#111"  stroke="#111" stroke-width="0.15">-15</text>
<text x="579.3" y="347.6" font-size="10" text-anchor="middle" font-weight="normal" fill="#111"  stroke="#111" stroke-width="0.15">-10</text>
<text x="608.3" y="347.6" font-size="10" text-anchor="middle" font-weight="normal" fill="#111"  stroke="#111" stroke-width="0.15">-5</text>
<text x="637.3" y="347.6" font-size="10" text-anchor="middle" font-weight="normal" fill="#111"  stroke="#111" stroke-width="0.15">0</text>
<text x="666.3" y="347.6" font-size="10" text-anchor="middle" font-weight="normal" fill="#111"  stroke="#111" stroke-width="0.15">5</text>
<text x="116.9" y="358.2" font-size="9.47" font-weight="bold">Change in net farm GHG (t CO<tspan font-size="6.5" dy="2">2</tspan><tspan dy="-2" dx="-0.6">eq ha</tspan><tspan font-size="5.2" dy="-3.8">-1</tspan><tspan dy="3.8" dx="-0.5"> )</tspan></text>
<text x="402" y="358.2" font-size="9.56" font-weight="bold">Change in emissions intensity (kg CO<tspan font-size="6.5" dy="2">2</tspan><tspan dy="-2" dx="-0.6">eq kg</tspan><tspan font-size="5.2" dy="-3.8">-1</tspan><tspan dy="3.8"> protein)</tspan></text>
<text transform="translate(12.3,270.0) rotate(-90)" font-size="9.5" font-weight="bold">Change in gross margin (AUD ha<tspan font-size="6.5" dy="-3.5" dx="0.4">−1</tspan><tspan dy="3.5" dx="0.3"> grazed)</tspan></text>
<rect x="18.2" y="369.59999999999997" width="7.2" height="7.2" fill="#f97263" fill-opacity="0.75" stroke="#888" stroke-width="0.6"/>
<text transform="translate(33.7,376.40) scale(0.955,1)" font-size="9.2" fill="#111" stroke="#111" stroke-width="0.18">10% Tree plantation</text>
<rect x="18.2" y="383.79999999999995" width="7.2" height="7.2" fill="#a3d8f0" fill-opacity="0.75" stroke="#888" stroke-width="0.6"/>
<text transform="translate(33.7,390.60) scale(0.955,1)" font-size="9.2" fill="#111" stroke="#111" stroke-width="0.18">10% Methane reduction</text>
<rect x="18.2" y="397.99999999999994" width="7.2" height="7.2" fill="#00ffff" fill-opacity="0.75" stroke="#888" stroke-width="0.6"/>
<text transform="translate(33.7,404.80) scale(0.955,1)" font-size="9.2" fill="#111" stroke="#111" stroke-width="0.18">18% Methane reduction</text>
<rect x="18.2" y="412.19999999999993" width="7.2" height="7.2" fill="#4682b4" fill-opacity="0.75" stroke="#888" stroke-width="0.6"/>
<text transform="translate(33.7,419.00) scale(0.955,1)" font-size="9.2" fill="#111" stroke="#111" stroke-width="0.18">25% Methane reduction</text>
<rect x="18.2" y="426.4" width="7.2" height="7.2" fill="#2e2ef2" fill-opacity="0.75" stroke="#888" stroke-width="0.6"/>
<text transform="translate(33.7,433.20) scale(0.955,1)" font-size="9.2" fill="#111" stroke="#111" stroke-width="0.18">37% Methane reduction</text>
<rect x="18.2" y="440.59999999999997" width="7.2" height="7.2" fill="#d99a9a" fill-opacity="0.75" stroke="#888" stroke-width="0.6"/>
<text transform="translate(33.7,447.40) scale(0.955,1)" font-size="9.2" fill="#111" stroke="#111" stroke-width="0.18">10% Liveweight gain</text>
<rect x="18.2" y="454.79999999999995" width="7.2" height="7.2" fill="#9a3d4f" fill-opacity="0.75" stroke="#888" stroke-width="0.6"/>
<text transform="translate(33.7,461.60) scale(0.955,1)" font-size="9.2" fill="#111" stroke="#111" stroke-width="0.18">50% Liveweight gain</text>
<circle cx="21.8" cy="472.59999999999997" r="4.0" fill="#d2d2d2" stroke="#999" stroke-width="0.6"/>
<text transform="translate(33.7,475.80) scale(0.955,1)" font-size="9.2" fill="#111" stroke="#111" stroke-width="0.18">Single lambs, reduced wool micron</text>
<polygon points="181.0,367.3 186.1,376.09999999999997 175.9,376.09999999999997" fill="#f7f3ea" stroke="#999" stroke-width="0.6"/>
<text transform="translate(192.5,376.40) scale(0.955,1)" font-size="9.2" fill="#111" stroke="#111" stroke-width="0.18">Increased stocking rate</text>
<polygon points="181.0,381.5 186.1,390.29999999999995 175.9,390.29999999999995" fill="#fad7b0" stroke="#999" stroke-width="0.6"/>
<text transform="translate(192.5,390.60) scale(0.955,1)" font-size="9.2" fill="#111" stroke="#111" stroke-width="0.18">Increased confinement feeding</text>
<polygon points="181.0,395.7 186.1,404.49999999999994 175.9,404.49999999999994" fill="#f28a3a" stroke="#999" stroke-width="0.6"/>
<text transform="translate(192.5,404.80) scale(0.955,1)" font-size="9.2" fill="#111" stroke="#111" stroke-width="0.18">Increased stocking and confinement feeding</text>
<circle cx="181.0" cy="415.79999999999995" r="4.0" fill="#606060" stroke="#999" stroke-width="0.6"/>
<text transform="translate(192.5,419.00) scale(0.955,1)" font-size="9.2" fill="#111" stroke="#111" stroke-width="0.18">Compost application</text>
<circle cx="181.0" cy="430.0" r="4.0" fill="#ddc8e6" stroke="#999" stroke-width="0.6"/>
<text transform="translate(192.5,433.20) scale(0.955,1)" font-size="9.2" fill="#111" stroke="#111" stroke-width="0.18">Cell grazing, 30-day rotation</text>
<circle cx="181.0" cy="444.2" r="4.0" fill="#8d5a9e" stroke="#999" stroke-width="0.6"/>
<text transform="translate(192.5,447.40) scale(0.955,1)" font-size="9.2" fill="#111" stroke="#111" stroke-width="0.18">Cell grazing, 120-day rotation</text>
<polygon points="181.0,453.54999999999995 185.85,458.4 181.0,463.25 176.15,458.4" fill="#ccff33" stroke="#999" stroke-width="0.6"/>
<text transform="translate(192.5,461.60) scale(0.955,1)" font-size="9.2" fill="#111" stroke="#111" stroke-width="0.18">Reduce grazing area by 100ha only</text>
<polygon points="181.0,467.74999999999994 185.85,472.59999999999997 181.0,477.45 176.15,472.59999999999997" fill="#3d8f3d" stroke="#999" stroke-width="0.6"/>
<text transform="translate(192.5,475.80) scale(0.955,1)" font-size="9.2" fill="#111" stroke="#111" stroke-width="0.18">Fence, increase feed and stocking</text>
<polygon points="375.8,368.34999999999997 380.65000000000003,373.2 375.8,378.05 370.95,373.2" fill="#66cc66" stroke="#999" stroke-width="0.6"/>
<text transform="translate(387.9,376.40) scale(0.955,1)" font-size="9.2" fill="#111" stroke="#111" stroke-width="0.18">Fence, increase feed and weaning</text>
<polygon points="375.8,382.54999999999995 380.65000000000003,387.4 375.8,392.25 370.95,387.4" fill="#40e840" stroke="#999" stroke-width="0.6"/>
<text transform="translate(387.9,390.60) scale(0.955,1)" font-size="9.2" fill="#111" stroke="#111" stroke-width="0.18">Fence, increase feed supply</text>
<circle cx="375.8" cy="401.59999999999997" r="4.0" fill="#d8453a" stroke="#999" stroke-width="0.6"/>
<text transform="translate(387.9,404.80) scale(0.955,1)" font-size="9.2" fill="#111" stroke="#111" stroke-width="0.18">Omega 3 rich dietary enrichment</text>
<circle cx="375.8" cy="415.79999999999995" r="4.0" fill="#fff2b3" stroke="#999" stroke-width="0.6"/>
<text transform="translate(387.9,419.00) scale(0.955,1)" font-size="9.2" fill="#111" stroke="#111" stroke-width="0.18">June lambing</text>
<circle cx="375.8" cy="430.0" r="4.0" fill="#ffff33" stroke="#999" stroke-width="0.6"/>
<text transform="translate(387.9,433.20) scale(0.955,1)" font-size="9.2" fill="#111" stroke="#111" stroke-width="0.18">August lambing</text>
<circle cx="375.8" cy="444.2" r="4.0" fill="#cccc66" stroke="#999" stroke-width="0.6"/>
<text transform="translate(387.9,447.40) scale(0.955,1)" font-size="9.2" fill="#111" stroke="#111" stroke-width="0.18">June lambing CFA Sept</text>
<polygon points="375.8,464.5 381.0,455.4 370.6,455.4" fill="#e3f8f8" stroke="#999" stroke-width="0.6"/>
<text transform="translate(387.9,461.60) scale(0.955,1)" font-size="9.2" fill="#111" stroke="#111" stroke-width="0.18">Purchase 1.5 yr old cull July</text>
<polygon points="375.8,478.7 381.0,469.59999999999997 370.6,469.59999999999997" fill="#9cc6c6" stroke="#999" stroke-width="0.6"/>
<text transform="translate(387.9,475.80) scale(0.955,1)" font-size="9.2" fill="#111" stroke="#111" stroke-width="0.18">Purchase 1.5 yr old cull September</text>
<polygon points="536.5,379.3 541.7,370.2 531.3,370.2" fill="#44ccc4" stroke="#999" stroke-width="0.6"/>
<text transform="translate(548.0,376.40) scale(0.955,1)" font-size="9.2" fill="#111" stroke="#111" stroke-width="0.18">Purchase 4.5 yr old cull July</text>
<polygon points="536.5,393.5 541.7,384.4 531.3,384.4" fill="#3a8a82" stroke="#999" stroke-width="0.6"/>
<text transform="translate(548.0,390.60) scale(0.955,1)" font-size="9.2" fill="#111" stroke="#111" stroke-width="0.18">Purchase 4.5 yr old cull September</text>
<circle cx="536.5" cy="401.59999999999997" r="4.0" fill="#ffd0da" stroke="#999" stroke-width="0.6"/>
<text transform="translate(548.0,404.80) scale(0.955,1)" font-size="9.2" fill="#111" stroke="#111" stroke-width="0.18">WR 112% + supps</text>
<circle cx="536.5" cy="415.79999999999995" r="4.0" fill="#ff8ac4" stroke="#999" stroke-width="0.6"/>
<text transform="translate(548.0,419.00) scale(0.955,1)" font-size="9.2" fill="#111" stroke="#111" stroke-width="0.18">WR 120% + supps</text>
<circle cx="536.5" cy="430.0" r="4.0" fill="#ff3cff" stroke="#999" stroke-width="0.6"/>
<text transform="translate(548.0,433.20) scale(0.955,1)" font-size="9.2" fill="#111" stroke="#111" stroke-width="0.18">WR 140% + supps</text>
</svg></div></body></html>
